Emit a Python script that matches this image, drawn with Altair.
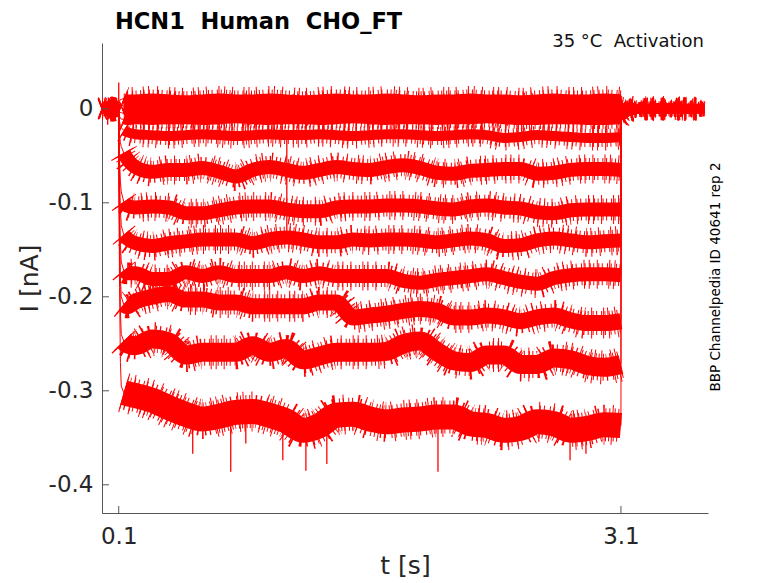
import altair as alt
import pandas as pd

# ---------------- data ----------------
# common time grid [s]: pre-pulse | onset | pulse plateau | after pulse
T = [0.0, 0.02, 0.04, 0.06, 0.08, 0.1,
     0.101, 0.105, 0.11, 0.115, 0.13, 0.15,
     0.2, 0.3, 0.4, 0.5, 0.6, 0.7, 0.8, 0.9, 1.0, 1.1,
     1.2, 1.3, 1.4, 1.5, 1.6, 1.7, 1.8, 1.9, 2.0, 2.1,
     2.2, 2.3, 2.4, 2.5, 2.6, 2.7, 2.8, 2.9, 3.0, 3.1,
     3.101, 3.15, 3.2, 3.3, 3.4, 3.5, 3.6]

# current traces [nA]
I1 = [0.001, 0.002, 0.0, 0.001, 0.002, 0.001,
      0.004, 0.008, 0.010, 0.010, 0.011, 0.010,
      0.010, 0.011, 0.010, 0.009, 0.010, 0.011, 0.010, 0.010, 0.011, 0.010,
      0.009, 0.010, 0.011, 0.010, 0.010, 0.011, 0.010, 0.009, 0.010, 0.010,
      0.011, 0.010, 0.010, 0.009, 0.010, 0.011, 0.010, 0.010, 0.011, 0.010,
      0.002, 0.002, 0.001, 0.002, 0.002, 0.001, 0.002]
I2 = [0.0, -0.001, 0.001, 0.0, -0.001, 0.0,
      0.002, 0.003, 0.003, 0.004, 0.003, 0.003,
      0.003, 0.004, 0.003, 0.003, 0.002, 0.003, 0.004, 0.003, 0.003, 0.002,
      0.003, 0.003, 0.004, 0.003, 0.002, 0.003, 0.003, 0.004, 0.003, 0.003,
      0.002, 0.003, 0.003, 0.004, 0.003, 0.003, 0.002, 0.003, 0.003, 0.003,
      0.001, 0.0, 0.001, 0.0, 0.001, 0.0, 0.001]
I3 = [-0.001, 0.0, -0.001, -0.002, 0.0, -0.001,
      -0.001, -0.003, -0.004, -0.004, -0.005, -0.004,
      -0.004, -0.005, -0.004, -0.004, -0.003, -0.004, -0.005, -0.004, -0.004, -0.004,
      -0.005, -0.004, -0.004, -0.003, -0.004, -0.004, -0.005, -0.004, -0.004, -0.005,
      -0.004, -0.004, -0.005, -0.004, -0.004, -0.003, -0.004, -0.005, -0.004, -0.004,
      -0.001, -0.001, 0.0, -0.001, -0.001, 0.0, -0.001]
I4 = [0.0, 0.001, -0.001, 0.0, 0.001, 0.0,
      -0.004, -0.008, -0.010, -0.011, -0.011, -0.012,
      -0.011, -0.012, -0.011, -0.011, -0.012, -0.011, -0.010, -0.011, -0.012, -0.011,
      -0.011, -0.012, -0.011, -0.010, -0.011, -0.012, -0.011, -0.011, -0.012, -0.011,
      -0.011, -0.010, -0.011, -0.012, -0.012, -0.011, -0.011, -0.012, -0.012, -0.011,
      -0.002, -0.001, -0.001, 0.0, -0.001, -0.001, 0.0]
I5 = [0.0, -0.001, 0.0, 0.001, 0.0, 0.0,
      -0.008, -0.014, -0.018, -0.020, -0.023, -0.025,
      -0.027, -0.028, -0.029, -0.028, -0.027, -0.028, -0.029, -0.028, -0.027, -0.028,
      -0.028, -0.027, -0.028, -0.029, -0.028, -0.027, -0.027, -0.028, -0.029, -0.028,
      -0.027, -0.028, -0.031, -0.030, -0.028, -0.029, -0.030, -0.031, -0.031, -0.030,
      -0.004, -0.002, -0.001, -0.001, 0.0, -0.001, 0.0]
I6 = [0.001, 0.0, -0.001, 0.0, 0.001, 0.0,
      -0.015, -0.028, -0.036, -0.040, -0.047, -0.053,
      -0.062, -0.067, -0.065, -0.065, -0.063, -0.067, -0.072, -0.065, -0.062, -0.065,
      -0.068, -0.065, -0.062, -0.064, -0.065, -0.062, -0.060, -0.063, -0.068, -0.069,
      -0.066, -0.065, -0.064, -0.064, -0.069, -0.068, -0.065, -0.064, -0.064, -0.065,
      -0.003, -0.001, 0.0, -0.001, 0.001, 0.0, -0.001]
I7 = [0.0, 0.001, 0.0, -0.001, 0.0, 0.001,
      -0.030, -0.055, -0.078, -0.088, -0.099, -0.103,
      -0.105, -0.104, -0.105, -0.111, -0.111, -0.108, -0.105, -0.104, -0.104, -0.107,
      -0.109, -0.109, -0.105, -0.104, -0.104, -0.103, -0.103, -0.104, -0.106, -0.107,
      -0.104, -0.103, -0.105, -0.106, -0.110, -0.111, -0.108, -0.107, -0.107, -0.107,
      -0.004, -0.002, -0.001, 0.0, -0.001, 0.001, 0.0]
I8 = [0.001, 0.0, 0.0, 0.001, -0.001, 0.0,
      -0.040, -0.075, -0.108, -0.124, -0.134, -0.138,
      -0.143, -0.146, -0.143, -0.141, -0.139, -0.139, -0.139, -0.143, -0.139, -0.137,
      -0.139, -0.142, -0.142, -0.139, -0.140, -0.139, -0.139, -0.140, -0.142, -0.140,
      -0.138, -0.140, -0.146, -0.145, -0.140, -0.138, -0.140, -0.142, -0.141, -0.140,
      -0.005, -0.002, -0.001, 0.0, 0.0, -0.001, 0.0]
I9 = [0.0, 0.0, 0.001, 0.0, 0.0, -0.001,
      -0.050, -0.100, -0.145, -0.163, -0.172, -0.175,
      -0.175, -0.181, -0.181, -0.174, -0.178, -0.174, -0.178, -0.178, -0.178, -0.174,
      -0.178, -0.175, -0.178, -0.178, -0.178, -0.178, -0.183, -0.185, -0.182, -0.180,
      -0.178, -0.176, -0.180, -0.184, -0.186, -0.180, -0.177, -0.176, -0.176, -0.177,
      -0.006, -0.002, -0.001, 0.0, -0.001, 0.0, 0.0]
I10 = [-0.001, 0.0, 0.0, 0.001, 0.0, 0.0,
       -0.060, -0.125, -0.180, -0.200, -0.208, -0.210,
       -0.205, -0.200, -0.197, -0.203, -0.203, -0.206, -0.206, -0.210, -0.210, -0.210,
       -0.210, -0.206, -0.206, -0.222, -0.220, -0.218, -0.215, -0.213, -0.215, -0.222,
       -0.222, -0.220, -0.222, -0.226, -0.222, -0.220, -0.225, -0.228, -0.228, -0.226,
       -0.007, -0.003, -0.001, 0.0, 0.0, 0.001, 0.0]
I11 = [0.0, 0.001, 0.0, 0.0, -0.001, 0.0,
       -0.070, -0.150, -0.215, -0.240, -0.247, -0.250,
       -0.252, -0.245, -0.248, -0.262, -0.259, -0.259, -0.259, -0.252, -0.259, -0.255,
       -0.267, -0.263, -0.259, -0.259, -0.259, -0.258, -0.250, -0.247, -0.258, -0.268,
       -0.270, -0.262, -0.262, -0.272, -0.272, -0.265, -0.267, -0.273, -0.275, -0.272,
       -0.008, -0.003, -0.001, 0.0, -0.001, 0.0, 0.0]
I12 = [0.001, 0.0, -0.001, 0.0, 0.001, 0.002,
       -0.090, -0.190, -0.270, -0.295, -0.302, -0.303,
       -0.305, -0.310, -0.318, -0.325, -0.330, -0.327, -0.323, -0.322, -0.326, -0.332,
       -0.342, -0.337, -0.326, -0.325, -0.330, -0.333, -0.331, -0.330, -0.328, -0.328,
       -0.335, -0.337, -0.342, -0.340, -0.333, -0.335, -0.342, -0.340, -0.336, -0.337,
       -0.010, -0.003, -0.001, 0.0, 0.0, -0.001, 0.0]

TRACE_VALUES = [I1, I2, I3, I4, I5, I6, I7, I8, I9, I10, I11, I12]
TRACE_NAMES = ["s%02d" % (k + 1) for k in range(len(TRACE_VALUES))]

# isolated spikes seen in the traces: time, start, end [nA]
SPIKE_T = [0.1, 0.034, 1.104, 0.542, 0.769, 0.859, 1.080, 1.218, 1.343, 2.007, 2.796, 2.891]
SPIKE_FROM = [0.0, 0.0, -0.030, -0.335, -0.335, -0.330, -0.335, -0.340, -0.335, -0.335, -0.340, -0.340]
SPIKE_TO = [0.028, -0.017, -0.140, -0.367, -0.386, -0.356, -0.374, -0.385, -0.378, -0.386, -0.374, -0.367]

X_TICKS = [0.1, 3.1]
Y_TICKS = [0.0, -0.1, -0.2, -0.3, -0.4]

TITLE = "HCN1\u00a0\u00a0Human\u00a0\u00a0CHO_FT"
SUBTITLE = "35 \u00b0C\u00a0\u00a0Activation"
SIDE = "BBP Channelpedia ID 40641 rep 2"

# ---------------- build tables ----------------
rows = []
for name, vals in zip(TRACE_NAMES, TRACE_VALUES):
    assert len(vals) == len(T), name
    for t, v in zip(T, vals):
        if t <= 0.1:
            seg = "pre"
        elif 0.13 <= t <= 3.1:
            seg = "on"
        elif t >= 3.101:
            seg = "post"
        else:
            seg = "tr"
        rows.append({"trace": name, "t": t, "I": v, "seg": seg})
df = pd.DataFrame(rows)
spk = pd.DataFrame({"t": SPIKE_T, "I": SPIKE_FROM, "I2": SPIKE_TO})

# ---------------- styling ----------------
W, H = 606, 470
RED = "#ff0000"
AX = "#555555"
TXT = "#262626"
FONT = "DejaVu Sans"
SMOOTH = "monotone"

# band look of the noisy traces: (trace names, solid core width)
GROUPS = [(TRACE_NAMES[0:5], 10), (TRACE_NAMES[5:9], 14),
          (TRACE_NAMES[9:10], 16), (TRACE_NAMES[10:11], 19),
          (TRACE_NAMES[11:12], 25)]

X = alt.X("t:Q",
          scale=alt.Scale(domain=[0, 3.62], nice=False, zero=False),
          axis=alt.Axis(values=X_TICKS, format=".1f", title="t [s]", grid=False,
                        tickSize=0, labelPadding=12, labelFontSize=23,
                        labelFont=FONT, labelColor=TXT, domainColor=AX,
                        titleFont=FONT, titleFontSize=25,
                        titleFontWeight="normal", titleColor=TXT,
                        titlePadding=5))
Y = alt.Y("I:Q",
          scale=alt.Scale(domain=[-0.43, 0.07], nice=False, zero=False),
          axis=alt.Axis(values=Y_TICKS, title="I [nA]", grid=False, tickSize=0,
                        labelPadding=9, labelFontSize=23, labelFont=FONT,
                        labelColor=TXT, domainColor=AX, titleFont=FONT,
                        titleFontSize=25, titleFontWeight="normal",
                        titleColor=TXT, titlePadding=6,
                        labelExpr="datum.value == 0 ? '0\u00a0\u00a0\u00a0' : "
                                  "replace(datum.label, '\u2212', '-')"))

layers = [alt.Chart(df).mark_line(color=RED, strokeWidth=1).encode(
    x=X, y=Y, detail="trace:N")]

edges = alt.Chart(df).transform_filter("datum.seg == 'pre' || datum.seg == 'post'")
enc_e = dict(x=X, y=Y, detail=["trace:N", "seg:N"])
layers += [
    edges.mark_line(color=RED, strokeWidth=22, interpolate=SMOOTH,
                    strokeDash=[1, 9, 1, 14, 1, 6]).encode(**enc_e),
    edges.mark_line(color=RED, strokeWidth=15, interpolate=SMOOTH,
                    strokeDash=[1, 3, 1, 5]).encode(**enc_e),
    edges.mark_line(color=RED, strokeWidth=8, interpolate=SMOOTH).encode(**enc_e),
]

for names, w in GROUPS:
    sel = alt.Chart(df).transform_filter(
        alt.FieldOneOfPredicate(field="trace", oneOf=names)
    ).transform_filter("datum.seg == 'on'")
    enc = dict(x=X, y=Y, detail="trace:N")
    layers += [
        sel.mark_line(color=RED, strokeWidth=w + 15, interpolate=SMOOTH,
                      strokeDash=[1, 7, 1, 11, 1, 4]).encode(**enc),
        sel.mark_line(color=RED, strokeWidth=w + 8, interpolate=SMOOTH,
                      strokeDash=[1, 2.5, 1, 4]).encode(**enc),
        sel.mark_line(color=RED, strokeWidth=w, interpolate=SMOOTH,
                      strokeJoin="round").encode(**enc),
    ]

layers.append(alt.Chart(spk).mark_rule(color=RED, strokeWidth=1.3).encode(
    x=X, y=Y, y2="I2:Q"))

layers.append(alt.Chart(pd.DataFrame({"I": Y_TICKS})).mark_rule(
    color=AX, strokeWidth=1).encode(y=Y, x=alt.value(0), x2=alt.value(7)))
layers.append(alt.Chart(pd.DataFrame({"t": X_TICKS})).mark_rule(
    color=AX, strokeWidth=1).encode(x=X, y=alt.value(H), y2=alt.value(H - 7)))

layers.append(alt.Chart(pd.DataFrame({"s": [TITLE]})).mark_text(
    font=FONT, fontSize=22.5, fontWeight="bold", align="left",
    baseline="alphabetic", color="#000000").encode(
    text="s:N", x=alt.value(13), y=alt.value(-14)))
layers.append(alt.Chart(pd.DataFrame({"s": [SUBTITLE]})).mark_text(
    font=FONT, fontSize=18, align="right", baseline="alphabetic",
    color="#111111").encode(text="s:N", x=alt.value(W - 4), y=alt.value(4)))
layers.append(alt.Chart(pd.DataFrame({"s": [SIDE]})).mark_text(
    font=FONT, fontSize=13.5, align="center", baseline="middle", angle=270,
    color="#000000").encode(text="s:N", x=alt.value(W + 8), y=alt.value(234)))

chart = alt.layer(*layers).properties(
    width=W, height=H,
    padding={"left": 94, "top": 35, "right": 60, "bottom": 68},
    autosize=alt.AutoSizeParams(type="none"),
    background="white",
).configure_view(stroke=None)

chart.save("out.html", embed_options={"renderer": "svg", "actions": False})
